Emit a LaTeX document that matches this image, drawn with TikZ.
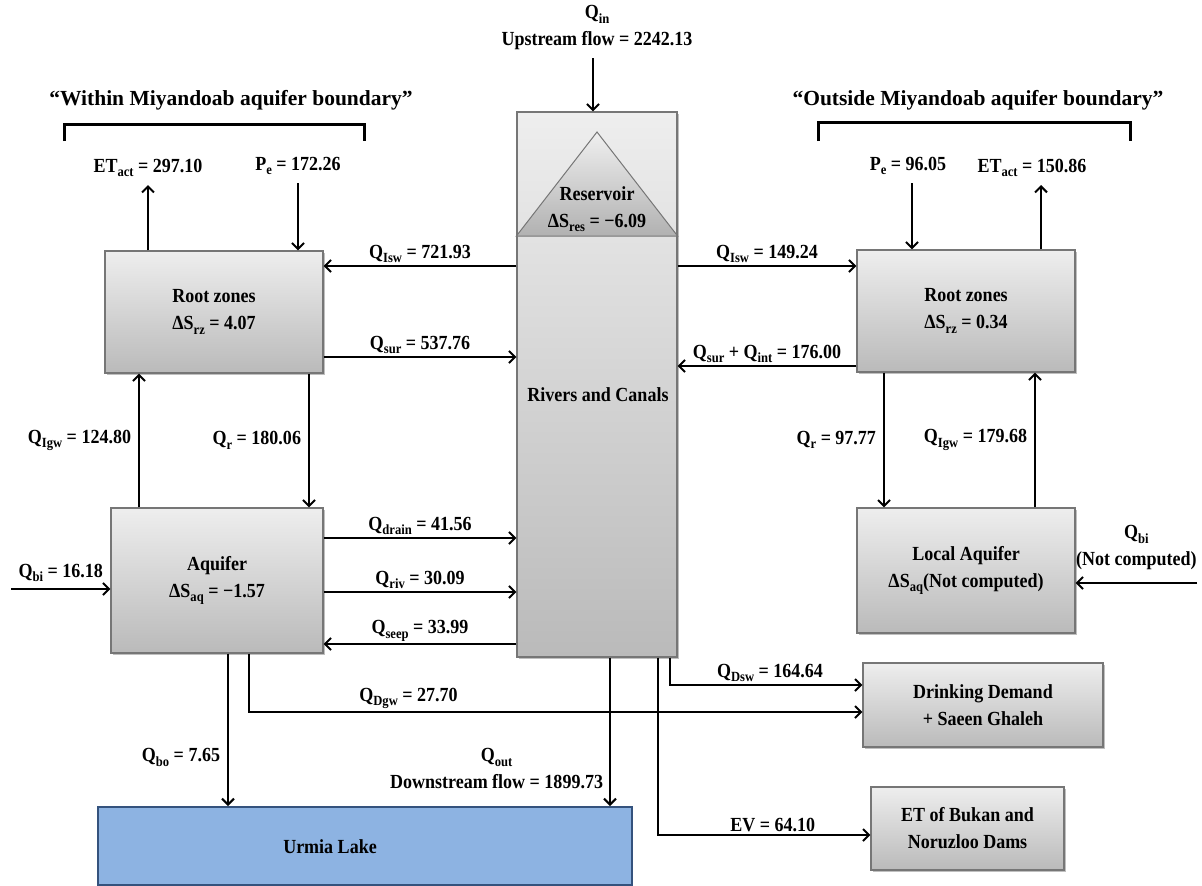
\documentclass[tikz,border=0pt]{standalone}
\usepackage{fontspec}
\setmainfont{Liberation Serif}[FakeStretch=0.9]
\newfontfamily\headfont{Liberation Serif}
\usetikzlibrary{arrows.meta,shadows}

\definecolor{boxtop}{RGB}{238,238,238}
\definecolor{boxbot}{RGB}{186,186,186}
\definecolor{boxline}{RGB}{118,118,118}
\definecolor{lakefill}{RGB}{141,179,226}
\definecolor{lakeline}{RGB}{52,82,125}

\newcommand\lowsub[1]{\raisebox{-4.5pt}{\fontsize{14}{14}\selectfont #1}}

\tikzset{
  every node/.style={font=\fontsize{20}{27}\selectfont\bfseries, inner sep=2pt, align=center},
  box/.style={draw=boxline, line width=1.2pt, top color=boxtop, bottom color=boxbot,
    drop shadow={shadow xshift=2pt, shadow yshift=-2pt, fill=black, opacity=0.25}},
  lakebox/.style={draw=lakeline, line width=2pt, fill=lakefill},
  flow/.style={line width=2pt, -{Straight Barb[length=6pt,width=12pt]}},
  bracket/.style={line width=3pt},
  heading/.style={font=\headfont\fontsize{21.5}{26}\selectfont\bfseries}
}

\begin{document}
\begin{tikzpicture}[x=1pt,y=-1pt]
  \fill[white] (0,0) rectangle (1202,886);
  \useasboundingbox (0,0) rectangle (1202,886);

  % boxes
  \node[box, minimum width=218pt, minimum height=122pt] (rzL) at (214,312) {Root zones\\ΔS\lowsub{rz} = 4.07};
  \node[box, minimum width=212pt, minimum height=145pt] (aqL) at (217,580.5) {Aquifer\\ΔS\lowsub{aq} = −1.57};
  \node[box, minimum width=160pt, minimum height=545pt] (riv) at (597,384.5) {};
  \node (rivtxt) at (598,395) {Rivers and Canals};
  \node[box, minimum width=218pt, minimum height=122pt] (rzR) at (966,311) {Root zones\\ΔS\lowsub{rz} = 0.34};
  \node[box, minimum width=218pt, minimum height=125pt] (aqR) at (966,570.5) {Local Aquifer\\ΔS\lowsub{aq}(Not computed)};
  \node[box, minimum width=240pt, minimum height=84pt] (drink) at (983,705) {Drinking Demand\\+ Saeen Ghaleh};
  \node[box, minimum width=193pt, minimum height=83pt] (etdam) at (967.5,828.5) {ET of Bukan and\\Noruzloo Dams};
  \node[lakebox, minimum width=534pt, minimum height=78pt] (lake) at (365,846) {};
  \node (laketxt) at (330,847) {Urmia Lake};

  % reservoir
  \draw[boxline, line width=1pt, top color=boxtop!90, bottom color=boxbot!95!black]
    (riv.north |- 0,132) -- (riv.east |- 0,236) -- (riv.west |- 0,236) -- cycle;
  \node (res) at (597,209) {Reservoir\\ΔS\lowsub{res} = −6.09};

  % brackets
  \node[heading] (wL) at (231,100) {“Within Miyandoab aquifer boundary”};
  \draw[bracket] (64,141) |- (364,124) -- (364,141);
  \node[heading] (wR) at (978,100) {“Outside Miyandoab aquifer boundary”};
  \draw[bracket] (818,141) |- (1130,122) -- (1130,141);

  % free ends
  \coordinate (qintail) at (593,58);
  \coordinate (etLtip) at (148,185);
  \coordinate (peLtail) at (298,183);
  \coordinate (peRtail) at (912,183);
  \coordinate (etRtip) at (1041,185);
  \coordinate (biLtail) at (11,589);
  \coordinate (biRtail) at (1197,583);

  \node (qinlbl) at (597,28) {Q\lowsub{in}\\Upstream flow = 2242.13};
  \draw[flow] (qintail) -- (qintail |- riv.north);
  \draw[flow] (etLtip |- rzL.north) -- (etLtip) node[above=5pt] (etL) {ET\lowsub{act} = 297.10};
  \draw[flow] (peLtail) node[above=5pt] (peL) {P\lowsub{e} = 172.26} -- (peLtail |- rzL.north);
  \draw[flow] (peRtail) node[above=5pt, xshift=-4pt] (peR) {P\lowsub{e} = 96.05} -- (peRtail |- rzR.north);
  \draw[flow] (etRtip |- rzR.north) -- (etRtip) node[above=5pt, xshift=-9pt] (etR) {ET\lowsub{act} = 150.86};

  % horizontal flows
  \foreach \a/\b/\y/\t [count=\i] in {
      riv.west/rzL.east/266/{Q\lowsub{Isw} = 721.93},
      rzL.east/riv.west/357/{Q\lowsub{sur} = 537.76},
      aqL.east/riv.west/538/{Q\lowsub{drain} = 41.56},
      aqL.east/riv.west/592/{Q\lowsub{riv} = 30.09},
      riv.west/aqL.east/644/{Q\lowsub{seep} = 33.99},
      riv.east/rzR.west/266/{Q\lowsub{Isw} = 149.24},
      rzR.west/riv.east/366/{Q\lowsub{sur} + Q\lowsub{int} = 176.00}}
    {\draw[flow] (\a |- 0,\y) -- node[above] (h\i) {\t} (\b |- 0,\y);}

  % vertical flows
  \foreach \a/\b/\x/\t [count=\i] in {
      aqL.north/rzL.south/139/{Q\lowsub{Igw} = 124.80},
      rzL.south/aqL.north/309/{Q\lowsub{r} = 180.06},
      rzR.south/aqR.north/884/{Q\lowsub{r} = 97.77},
      aqR.north/rzR.south/1035/{Q\lowsub{Igw} = 179.68}}
    {\draw[flow] (\a -| \x,0) -- node[left=5pt] (v\i) {\t} (\b -| \x,0);}

  \draw[flow] (biLtail) -- node[above=4pt] (biL) {Q\lowsub{bi} = 16.18} (aqL.west |- biLtail);
  \draw[flow] (biRtail) -- node[above=10pt] (biR) {Q\lowsub{bi}\\(Not computed)} (aqR.east |- biRtail);

  % outflows
  \draw[flow] (aqL.south -| 228,0) -- node[pos=0.68, left=5pt] (qbo) {Q\lowsub{bo} = 7.65} (lake.north -| 228,0);
  \draw[flow] (riv.south -| 610,0) -- node[pos=0.75, left=4pt] (qout) {Q\lowsub{out}\\Downstream flow = 1899.73} (lake.north -| 610,0);
  \draw[flow] (aqL.south -| 249,0) |- node[pos=0.63, above] (qdgw) {Q\lowsub{Dgw} = 27.70} (drink.west |- 0,712);
  \draw[flow] (riv.south -| 670,0) |- node[pos=0.76, above] (qdsw) {Q\lowsub{Dsw} = 164.64} (drink.west |- 0,685);
  \draw[flow] (riv.south -| 658,0) |- node[pos=0.77, above] (ev) {EV = 64.10} (etdam.west |- 0,835);
\end{tikzpicture}
\end{document}
